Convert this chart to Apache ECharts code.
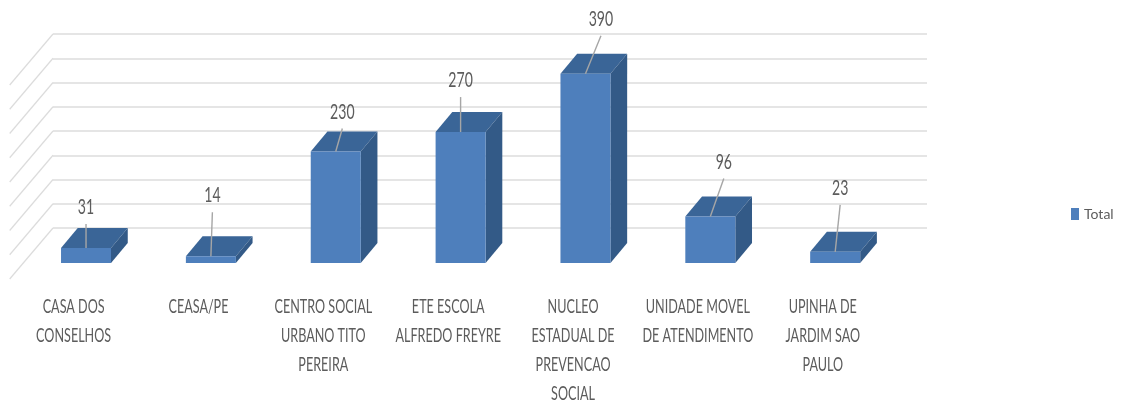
<!DOCTYPE html>
<html><head><meta charset="utf-8">
<style>html,body{margin:0;padding:0;background:#fff}#c{width:1123px;height:406px}</style>
<script src="https://cdn.jsdelivr.net/npm/echarts@6/dist/echarts.min.js"></script>
</head><body><div id="c"></div>
<script>
const categories = ['CASA DOS\nCONSELHOS','CEASA/PE','CENTRO SOCIAL\nURBANO TITO\nPEREIRA','ETE ESCOLA\nALFREDO FREYRE','NUCLEO\nESTADUAL DE\nPREVENCAO\nSOCIAL','UNIDADE MOVEL\nDE ATENDIMENTO','UPINHA DE\nJARDIM SAO\nPAULO'];
const totals = [31,14,230,270,390,96,23];
const seriesName = 'Total';
const ticks = [0,50,100,150,200,250,300,350,400];
// label leader offsets (pixels) from the bar's front top centre
const leaderDx = [0,1.5,6.6,0,15.5,13.5,5];
const leaderDy = [-24,-44,-23,-35,-38,-38,-47];

const FRONT='#4e7fbc', TOP='#3a6597', SIDE='#335a87', GRID='#dcdcdc', TEXT='#5c5c5c';
const FONT='Lato,"Liberation Sans",sans-serif';
const shiftX=-29.4, shiftY=35, barW=50, depthX=16.7, depthY=20;

const chart = echarts.init(document.getElementById('c'),null,{renderer:'canvas'});
chart.setOption({
  animation:false,
  backgroundColor:'#fff',
  grid:{left:53,top:34,width:874,height:194,outerBoundsMode:'none'},
  legend:{show:true,left:1071,top:207,itemWidth:8,itemHeight:12,icon:'rect',padding:0,
    data:[seriesName],textStyle:{color:TEXT,fontFamily:FONT,fontWeight:400,fontSize:14}},
  xAxis:{type:'category',data:categories,axisLine:{show:false},axisTick:{show:false},axisLabel:{show:false}},
  yAxis:{type:'value',min:0,max:400,interval:50,axisLabel:{show:false},axisLine:{show:false},axisTick:{show:false},
    splitLine:{show:true,lineStyle:{color:GRID,width:1.5}}},
  series:[
    {type:'custom',silent:true,data:ticks.map(t=>[0,t]),z:1,name:'_walls',encode:{x:0,y:1},
      renderItem(params,api){
        const p=api.coord([0,api.value(1)]);
        const x=params.coordSys.x;
        return {type:'line',shape:{x1:x,y1:p[1],x2:x-43.3,y2:p[1]+51},style:{stroke:GRID,lineWidth:1.2}};
      }},
    {type:'custom',name:seriesName,z:3,itemStyle:{color:FRONT},
      data:totals.map((v,i)=>[i,v]),encode:{x:0,y:1},
      renderItem(params,api){
        const i=api.value(0), v=api.value(1);
        const b=api.coord([i,0]), t=api.coord([i,v]);
        const cx=b[0]+shiftX, xl=cx-barW/2, xr=cx+barW/2;
        const yb=b[1]+shiftY, yt=t[1]+shiftY;
        const lx=cx+leaderDx[i], ly=yt+leaderDy[i];
        return {type:'group',children:[
          {type:'polygon',shape:{points:[[xl,yt],[xl+depthX,yt-depthY],[xr+depthX,yt-depthY],[xr,yt]]},style:{fill:TOP}},
          {type:'polygon',shape:{points:[[xr,yt],[xr+depthX,yt-depthY],[xr+depthX,yb-depthY],[xr,yb]]},style:{fill:SIDE}},
          {type:'rect',shape:{x:xl,y:yt,width:barW,height:yb-yt},style:{fill:FRONT}},
          {type:'line',shape:{x1:cx,y1:yt,x2:lx,y2:ly},style:{stroke:'#a6a6a6',lineWidth:1.4}},
          {type:'text',x:lx,y:ly-17,scaleX:0.64,style:{text:String(v),x:0,y:0,align:'center',verticalAlign:'middle',fill:TEXT,font:'400 22px '+FONT}},
          {type:'text',x:b[0]-41.8,y:292,scaleX:0.63,style:{text:categories[i],x:0,y:0,align:'center',verticalAlign:'top',lineHeight:29,fill:TEXT,font:'400 20px '+FONT}}
        ]};
      }}
  ]
});
</script></body></html>
